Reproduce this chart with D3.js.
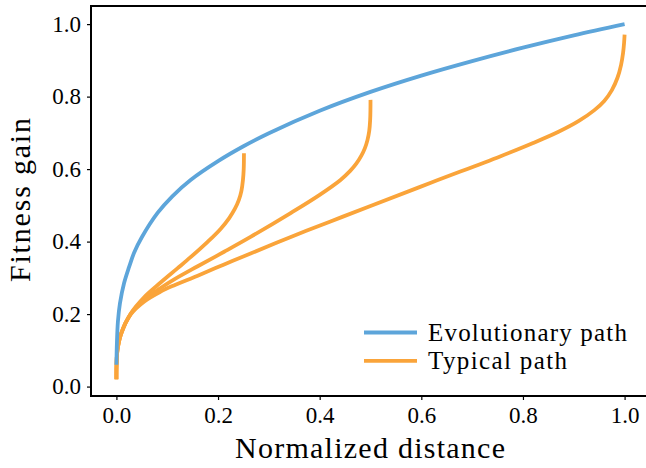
<!DOCTYPE html>
<html>
<head>
<meta charset="utf-8">
<script src="https://cdn.jsdelivr.net/npm/d3@7"></script>
<style>
  html, body { margin: 0; padding: 0; background: #fff; }
  svg { display: block; }
  text { font-family: "Liberation Serif", "DejaVu Serif", serif; fill: #000; }
</style>
</head>
<body>
<svg id="chart" width="646" height="468"></svg>
<script>
// values: [distance, fitness gain]
const evolutionaryPath = [
  [0, 0.06], [0.001, 0.12], [0.003, 0.18], [0.007, 0.23], [0.015, 0.285],
  [0.025, 0.33], [0.035, 0.37], [0.05, 0.412], [0.081, 0.479], [0.11, 0.525],
  [0.146, 0.570], [0.2, 0.622], [0.25, 0.663], [0.3, 0.699], [0.4, 0.761],
  [0.5, 0.813], [0.6, 0.858], [0.7, 0.898], [0.8, 0.935], [0.9, 0.969], [1.0, 1.0]
];
const typicalPaths = [
  [ // ends at 0.25
    [0, 0.02], [0.0003, 0.06], [0.002, 0.10], [0.009, 0.145], [0.028, 0.201],
    [0.055, 0.247], [0.087, 0.287], [0.12, 0.326], [0.146, 0.357], [0.18, 0.400],
    [0.205, 0.435], [0.222, 0.465], [0.233, 0.490], [0.241, 0.515], [0.246, 0.540],
    [0.249, 0.570], [0.2505, 0.600], [0.251, 0.644]
  ],
  [ // ends at 0.5
    [0, 0.02], [0.0003, 0.06], [0.002, 0.10], [0.009, 0.145], [0.028, 0.200],
    [0.055, 0.240], [0.087, 0.272], [0.113, 0.295], [0.16, 0.332], [0.212, 0.372],
    [0.264, 0.413], [0.342, 0.478], [0.40, 0.529], [0.441, 0.570], [0.46, 0.595],
    [0.472, 0.615], [0.482, 0.637], [0.489, 0.658], [0.494, 0.680], [0.4975, 0.705],
    [0.4993, 0.735], [0.4999, 0.765], [0.500, 0.791]
  ],
  [ // ends at 1.0
    [0, 0.02], [0.0003, 0.06], [0.002, 0.10], [0.009, 0.145], [0.028, 0.199],
    [0.055, 0.235], [0.087, 0.262], [0.113, 0.279], [0.16, 0.306], [0.212, 0.337],
    [0.264, 0.367], [0.342, 0.412], [0.42, 0.455], [0.5, 0.498], [0.62, 0.563],
    [0.755, 0.635], [0.82, 0.672], [0.87, 0.703], [0.91, 0.733], [0.94, 0.762],
    [0.96, 0.788], [0.975, 0.818], [0.986, 0.852], [0.993, 0.887], [0.997, 0.920],
    [0.999, 0.948], [1.0, 0.971]
  ]
];
const xTicks = [0, 0.2, 0.4, 0.6, 0.8, 1.0];
const yTicks = [0, 0.2, 0.4, 0.6, 0.8, 1.0];
const legendLabels = ["Evolutionary path", "Typical path"];

const blue = "#5da5da", orange = "#faa43a";
const svg = d3.select("#chart");
const margin = { left: 91, top: 6, right: -4, bottom: 72 };
const W = 646, H = 468;

const x = d3.scaleLinear().domain([-0.05, 1.05]).range([margin.left, W - margin.right]);
const y = d3.scaleLinear().domain([-0.026, 1.05]).range([H - margin.bottom, margin.top]);

const line = d3.line()
  .x(d => x(d[0])).y(d => y(d[1]))
  .curve(d3.curveCatmullRom.alpha(0.5));

const plot = svg.append("g");

typicalPaths.forEach(p => {
  plot.append("path").datum(p).attr("d", line)
    .attr("fill", "none").attr("stroke", orange).attr("stroke-width", 3.8);
});
plot.append("path").datum(evolutionaryPath).attr("d", line)
  .attr("fill", "none").attr("stroke", blue).attr("stroke-width", 3.8);

// frame
svg.append("rect")
  .attr("x", x.range()[0]).attr("y", y.range()[1])
  .attr("width", x.range()[1] - x.range()[0]).attr("height", y.range()[0] - y.range()[1])
  .attr("fill", "none").attr("stroke", "#000").attr("stroke-width", 2);

const xAxis = svg.append("g").attr("transform", `translate(0,${y.range()[0]})`)
  .call(d3.axisBottom(x).tickValues(xTicks).tickFormat(d3.format(".1f"))
    .tickSize(4).tickSizeOuter(0).tickPadding(7));
const yAxis = svg.append("g").attr("transform", `translate(${x.range()[0]},0)`)
  .call(d3.axisLeft(y).tickValues(yTicks).tickFormat(d3.format(".1f"))
    .tickSize(4).tickSizeOuter(0).tickPadding(6));
[xAxis, yAxis].forEach(a => {
  a.select(".domain").remove();
  a.selectAll(".tick line").attr("stroke", "#000").attr("stroke-width", 1.2);
  a.selectAll(".tick text").attr("font-family", "Liberation Serif").attr("font-size", 23);
});

svg.append("text")
  .attr("x", 370).attr("y", 458)
  .attr("text-anchor", "middle").attr("font-size", 30)
  .attr("textLength", 270).attr("lengthAdjust", "spacing")
  .text("Normalized distance");
svg.append("text")
  .attr("transform", "translate(30,200) rotate(-90)")
  .attr("text-anchor", "middle").attr("font-size", 30)
  .attr("textLength", 164).attr("lengthAdjust", "spacing")
  .text("Fitness gain");

// legend
const legendWidths = [199, 139];
const legend = svg.append("g");
[blue, orange].forEach((c, i) => {
  const ly = 332.5 + i * 28.3;
  legend.append("line").attr("x1", 364).attr("x2", 417).attr("y1", ly).attr("y2", ly)
    .attr("stroke", c).attr("stroke-width", 3.8);
  legend.append("text").attr("x", 428).attr("y", ly).attr("dy", "0.33em")
    .attr("font-size", 25)
    .attr("textLength", legendWidths[i]).attr("lengthAdjust", "spacing")
    .text(legendLabels[i]);
});
</script>
</body>
</html>
